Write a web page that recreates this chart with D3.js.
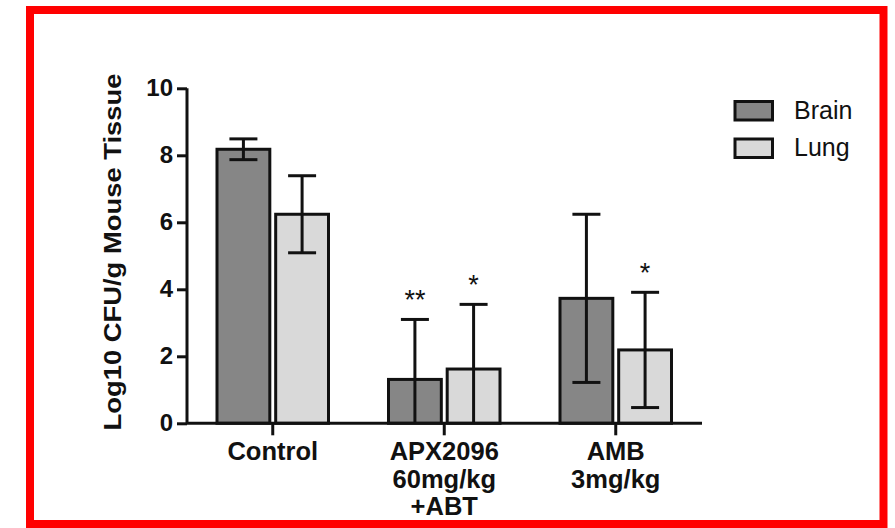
<!DOCTYPE html>
<html>
<head>
<meta charset="utf-8">
<script src="https://cdn.jsdelivr.net/npm/d3@7"></script>
<style>
  body { margin: 0; background: #fff; }
  svg { display: block; font-family: "Liberation Sans", Arial, Helvetica, sans-serif; }
</style>
</head>
<body>
<div class="vis-chart"></div>
<script>
// data
const groups = [["Control"], ["APX2096", "60mg/kg", "+ABT"], ["AMB", "3mg/kg"]];
const seriesNames = ["Brain", "Lung"];
const brainMean = [8.18, 1.31, 3.73];
const brainErr = [0.31, 1.79, 2.51];
const lungMean = [6.24, 1.62, 2.19];
const lungErr = [1.15, 1.93, 1.72];
const brainSig = ["", "**", ""];
const lungSig = ["", "*", "*"];
const yTicks = [0, 2, 4, 6, 8, 10];
const colors = ["#868686", "#d9d9d9"];

const W = 895, H = 528;
const svg = d3.select(".vis-chart").append("svg")
    .attr("width", W).attr("height", H);

// red frame
svg.append("rect")
    .attr("x", 30).attr("y", 10)
    .attr("width", 853.5).attr("height", 514)
    .attr("fill", "#fff").attr("stroke", "#ff0000").attr("stroke-width", 8);

const x0 = d3.scaleBand().domain(d3.range(groups.length)).range([187, 701.5]).paddingInner(0).paddingOuter(0);
const x1 = d3.scaleBand().domain([0, 1]).range([30, x0.bandwidth() - 30]).paddingInner(0.1);
const y = d3.scaleLinear().domain([0, 10]).range([423.3, 88.3]);

const rows = [];
groups.forEach((g, i) => {
    rows.push({g: i, s: 0, v: brainMean[i], e: brainErr[i], sig: brainSig[i]});
    rows.push({g: i, s: 1, v: lungMean[i], e: lungErr[i], sig: lungSig[i]});
});

const bx = d => x0(d.g) + x1(d.s);
const cx = d => bx(d) + x1.bandwidth() / 2;

// bars
svg.append("g").selectAll("rect").data(rows).join("rect")
    .attr("x", bx)
    .attr("y", d => y(d.v))
    .attr("width", x1.bandwidth())
    .attr("height", d => y(0) - y(d.v))
    .attr("fill", d => colors[d.s])
    .attr("stroke", "#111").attr("stroke-width", 3);

// error bars
const eb = svg.append("g").attr("stroke", "#111").attr("stroke-width", 3);
rows.forEach(d => {
    const lo = Math.max(0, d.v - d.e), hi = d.v + d.e;
    eb.append("line").attr("x1", cx(d)).attr("x2", cx(d)).attr("y1", y(lo)).attr("y2", y(hi));
    eb.append("line").attr("x1", cx(d) - 14).attr("x2", cx(d) + 14).attr("y1", y(hi)).attr("y2", y(hi));
    if (d.v - d.e > 0)
        eb.append("line").attr("x1", cx(d) - 14).attr("x2", cx(d) + 14).attr("y1", y(lo)).attr("y2", y(lo));
});

// significance stars
svg.append("g").selectAll("text").data(rows.filter(d => d.sig)).join("text")
    .attr("x", cx)
    .attr("y", d => y(d.v + d.e) - 10)
    .attr("text-anchor", "middle")
    .attr("font-size", 27)
    .attr("fill", "#111")
    .text(d => d.sig);

// y axis
const yAxis = svg.append("g").attr("transform", "translate(187,0)")
    .call(d3.axisLeft(y).tickValues(yTicks).tickSize(10).tickPadding(4));
yAxis.select(".domain").attr("stroke", "#111").attr("stroke-width", 3).attr("d", "M0," + y(0) + "V" + y(10));
yAxis.selectAll(".tick line").attr("stroke", "#111").attr("stroke-width", 3);
yAxis.selectAll(".tick text").attr("font-size", 24).attr("font-weight", "bold").attr("fill", "#111")
    .attr("font-family", "Liberation Sans, Arial, sans-serif");

// x axis
const xAxis = svg.append("g").attr("transform", "translate(0," + y(0) + ")")
    .call(d3.axisBottom(x0).tickSize(12).tickFormat(""));
xAxis.select(".domain").attr("stroke", "#111").attr("stroke-width", 3).attr("d", "M186,0H702");
xAxis.selectAll(".tick line").attr("stroke", "#111").attr("stroke-width", 3);

// category labels
const lab = svg.append("g").attr("font-size", 25.5).attr("font-weight", "bold").attr("fill", "#111")
    .attr("text-anchor", "middle");
groups.forEach((g, i) => {
    g.forEach((t, k) => {
        lab.append("text")
            .attr("x", x0(i) + x0.bandwidth() / 2)
            .attr("y", 460 + k * 27.5)
            .text(t);
    });
});

// y title
svg.append("text")
    .attr("transform", "translate(121,252) rotate(-90)")
    .attr("text-anchor", "middle")
    .attr("font-size", 24.5).attr("font-weight", "bold").attr("fill", "#111")
    .attr("textLength", 357).attr("lengthAdjust", "spacingAndGlyphs")
    .text("Log10 CFU/g Mouse Tissue");

// legend
const leg = svg.append("g");
seriesNames.forEach((n, i) => {
    leg.append("rect")
        .attr("x", 735).attr("y", 101.5 + i * 37.5)
        .attr("width", 37.5).attr("height", 18.5)
        .attr("fill", colors[i]).attr("stroke", "#111").attr("stroke-width", 3);
    leg.append("text")
        .attr("x", 794).attr("y", 118.5 + i * 37.5)
        .attr("font-size", 25).attr("fill", "#111")
        .text(n);
});
</script>
</body>
</html>
